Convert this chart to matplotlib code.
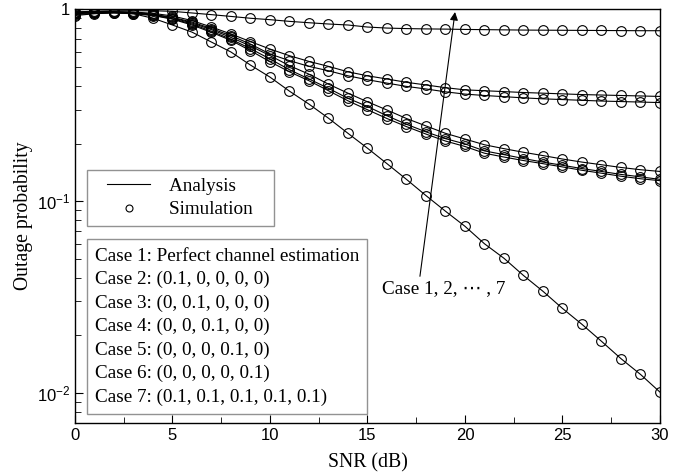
import math

import numpy as np
import matplotlib.pyplot as plt
from matplotlib.lines import Line2D
from matplotlib.legend_handler import HandlerLine2D
from matplotlib.ticker import FixedLocator, LogLocator, NullFormatter, FuncFormatter

plt.rcParams['font.family'] = ['Liberation Serif', 'DejaVu Sans']

snr = list(range(31))

# outage probability per case (1 dB steps)
case1 = [0.93, 0.95, 0.96, 0.95, 0.90, 0.83, 0.762, 0.676, 0.60, 0.513, 0.444,
         0.375, 0.321, 0.271, 0.226, 0.189, 0.157, 0.130, 0.107, 0.0887, 0.074,
         0.060, 0.0504, 0.041, 0.0339, 0.0276, 0.0228, 0.0186, 0.0151, 0.0125, 0.0101]
case_m1 = [0.97, 0.975, 0.975, 0.97, 0.955, 0.925, 0.875, 0.81, 0.745, 0.68, 0.622,
           0.574, 0.536, 0.505, 0.473, 0.451, 0.434, 0.417, 0.404, 0.391, 0.381,
           0.377, 0.373, 0.369, 0.366, 0.363, 0.360, 0.358, 0.356, 0.354, 0.352]
case_m2 = [0.96, 0.97, 0.97, 0.965, 0.945, 0.91, 0.86, 0.795, 0.73, 0.66, 0.586,
           0.541, 0.505, 0.479, 0.451, 0.430, 0.413, 0.397, 0.385, 0.372, 0.362,
           0.356, 0.351, 0.346, 0.342, 0.339, 0.336, 0.333, 0.331, 0.329, 0.327]
case_l1 = [0.955, 0.965, 0.97, 0.96, 0.94, 0.905, 0.85, 0.785, 0.715, 0.645, 0.575,
           0.509, 0.460, 0.408, 0.366, 0.330, 0.299, 0.270, 0.247, 0.226, 0.211,
           0.197, 0.188, 0.180, 0.173, 0.166, 0.160, 0.155, 0.150, 0.146, 0.143]
case_l2 = [0.95, 0.96, 0.965, 0.955, 0.935, 0.895, 0.84, 0.77, 0.70, 0.625, 0.552,
           0.485, 0.434, 0.388, 0.344, 0.312, 0.279, 0.252, 0.230, 0.212, 0.199,
           0.183, 0.175, 0.167, 0.160, 0.154, 0.148, 0.143, 0.138, 0.134, 0.130]
case_l3 = [0.94, 0.955, 0.96, 0.95, 0.93, 0.89, 0.83, 0.76, 0.69, 0.61, 0.534,
           0.473, 0.425, 0.377, 0.334, 0.300, 0.270, 0.245, 0.224, 0.206, 0.193,
           0.178, 0.170, 0.163, 0.157, 0.151, 0.145, 0.140, 0.135, 0.131, 0.128]
case7 = [0.97, 0.98, 0.985, 0.985, 0.985, 0.978, 0.959, 0.94, 0.92, 0.90, 0.885,
         0.867, 0.853, 0.84, 0.83, 0.81, 0.80, 0.795, 0.792, 0.79, 0.787,
         0.785, 0.783, 0.781, 0.78, 0.779, 0.778, 0.777, 0.776, 0.775, 0.775]

all_cases = [case1, case_m1, case_m2, case_l1, case_l2, case_l3, case7]

case_labels = ['Case 1: Perfect channel estimation',
               'Case 2: (0.1, 0, 0, 0, 0)',
               'Case 3: (0, 0.1, 0, 0, 0)',
               'Case 4: (0, 0, 0.1, 0, 0)',
               'Case 5: (0, 0, 0, 0.1, 0)',
               'Case 6: (0, 0, 0, 0, 0.1)',
               'Case 7: (0.1, 0.1, 0.1, 0.1, 0.1)']

FS = 13.75


class PadHandler(HandlerLine2D):
    # legend handle that leaves some blank room on its left
    def create_artists(self, legend, orig_handle, xdescent, ydescent,
                       width, height, fontsize, trans):
        arts = super().create_artists(legend, orig_handle, xdescent, ydescent,
                                      width, height, fontsize, trans)
        for a in arts:
            x = np.asarray(a.get_xdata(), dtype=float)
            off = 0.23 * (x[-1] - x[0])
            a.set_xdata(np.linspace(x[0] + off, x[-1], len(x)))
        return arts


fig = plt.figure(figsize=(6.84, 4.72), dpi=100)
ax = fig.add_axes([0.1096, 0.1045, 0.8553, 0.8754])

for vals in all_cases:
    ax.plot(snr, vals, color='black', lw=0.8)
    ax.plot(snr, vals, linestyle='none', marker='o', ms=7, mfc='none',
            mec='black', mew=0.8)

ax.set_yscale('log')
ax.set_xlim(0, 30)
ax.set_ylim(0.007, 1)

ax.xaxis.set_major_locator(FixedLocator([0, 5, 10, 15, 20, 25, 30]))
ax.xaxis.set_minor_locator(FixedLocator([2.5, 7.5, 12.5, 17.5, 22.5, 27.5]))
ax.yaxis.set_major_locator(FixedLocator([0.01, 0.1, 1]))
ax.yaxis.set_minor_locator(LogLocator(base=10, subs=range(2, 10)))
ax.yaxis.set_minor_formatter(NullFormatter())


def ylab(v, pos):
    if abs(v - 1) < 1e-9:
        return '1'
    return r'$\mathregular{10^{%d}}$' % int(round(math.log10(v)))


ax.yaxis.set_major_formatter(FuncFormatter(ylab))
ax.tick_params(which='both', direction='in', top=False, right=False)
ax.tick_params(which='major', length=6, labelsize=12)
ax.tick_params(which='minor', length=4)
for lab in ax.get_xticklabels() + ax.get_yticklabels():
    lab.set_family(['Liberation Sans', 'DejaVu Sans'])
for sp in ax.spines.values():
    sp.set_linewidth(1.0)

ax.set_xlabel('SNR (dB)', fontsize=14.2, labelpad=8)
ax.set_ylabel('Outage probability', fontsize=14.2, labelpad=3)

# legend: analysis vs simulation
h_an = Line2D([], [], color='black', lw=0.8)
h_sim = Line2D([], [], linestyle='none', marker='o', ms=5, mfc='none',
               mec='black', mew=0.8)
leg1 = ax.legend([h_an, h_sim], ['Analysis   ', 'Simulation   '],
                 loc='upper left', bbox_to_anchor=(0.0205, 0.6116),
                 borderaxespad=0, fontsize=FS, frameon=True, fancybox=False,
                 edgecolor='#777777', handlelength=2.93, handletextpad=0.95,
                 labelspacing=0.33, borderpad=0.39,
                 handler_map={Line2D: PadHandler()})
leg1.get_frame().set_linewidth(1.0)
ax.add_artist(leg1)

# legend: case descriptions (text only)
blank = [Line2D([], [], linestyle='none') for _ in case_labels]
leg2 = ax.legend(blank, case_labels, loc='upper left',
                 bbox_to_anchor=(0.0205, 0.4439), borderaxespad=0,
                 fontsize=FS, frameon=True, fancybox=False,
                 edgecolor='#777777', handlelength=0, handletextpad=0,
                 labelspacing=0.32, borderpad=0.42)
leg2.get_frame().set_linewidth(1.0)

ax.annotate('', xy=(19.49, 0.97), xytext=(17.69, 0.0406),
            arrowprops=dict(arrowstyle='-|>', color='black', lw=0.8,
                            mutation_scale=12, shrinkA=0, shrinkB=0))
ax.text(15.73, 0.0352, 'Case 1, 2, \u22ef , 7', fontsize=FS, ha='left',
        va='center')

fig.savefig('out.png', dpi=100)
